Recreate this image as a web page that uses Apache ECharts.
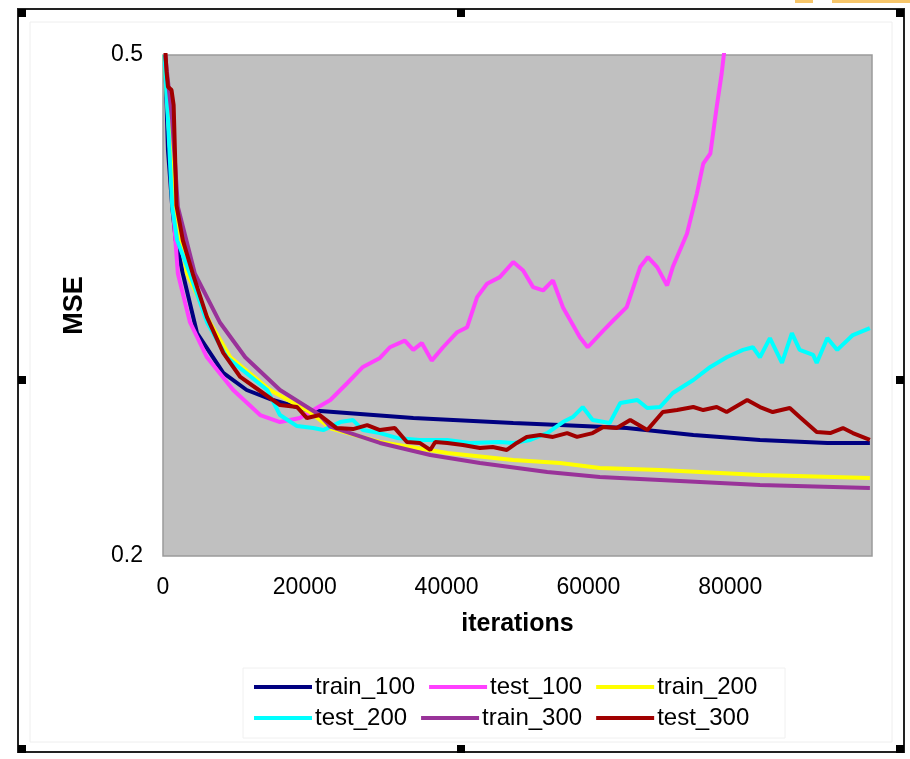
<!DOCTYPE html>
<html>
<head>
<meta charset="utf-8">
<script src="https://cdn.jsdelivr.net/npm/echarts@6/dist/echarts.min.js"></script>
<style>
  html, body { margin:0; padding:0; background:#fff; }
  #chart { width:910px; height:759px; }
</style>
</head>
<body>
<div id="chart"></div>
<script type="text/javascript">
// legend names, in drawing order
var seriesNames = ['train_100', 'test_100', 'train_200', 'test_200', 'train_300', 'test_300'];
var seriesColors = ['#000080', '#ff40ff', '#ffff00', '#00ffff', '#993399', '#a00000'];
var xTicks = [0, 20000, 40000, 60000, 80000];
var yTicks = [0.2, 0.5];

// [iterations, MSE]
var train100 = [
  [300,0.50],[700,0.443],[1300,0.409],[1800,0.389],[2800,0.369],[4800,0.3335],
  [8500,0.3096],[11800,0.2994],[15500,0.2934],[20300,0.2874],[35300,0.2826],
  [49400,0.2796],[56000,0.2784],[65400,0.2766],[74800,0.2725],[84200,0.2695],
  [93700,0.2677],[99700,0.2677]
];
var test100 = [
  [300,0.50],[1000,0.443],[1400,0.409],[2100,0.369],[3800,0.340],[6200,0.319],
  [9900,0.2994],[13700,0.2844],[16500,0.2802],[19300,0.2826],[21200,0.2874],
  [23600,0.2934],[26000,0.3036],[28200,0.3132],[30600,0.3186],[32000,0.325],
  [34100,0.329],[35300,0.3234],[36500,0.3275],[37900,0.317],[39500,0.325],
  [41500,0.334],[42900,0.337],[44300,0.355],[45700,0.363],[47500,0.367],
  [49400,0.376],[50800,0.371],[52200,0.361],[53600,0.359],[55000,0.365],
  [56400,0.349],[58800,0.331],[59900,0.325],[62100,0.335],[63500,0.341],
  [65400,0.349],[67300,0.373],[68400,0.379],[69700,0.373],[71100,0.362],
  [71900,0.373],[73900,0.393],[75300,0.417],[76200,0.435],[77200,0.441],
  [78100,0.469],[78800,0.489],[79100,0.50],[79500,0.515]
];
var train200 = [
  [200,0.50],[1000,0.443],[1700,0.409],[3400,0.369],[6600,0.340],[9500,0.319],
  [15100,0.2994],[20700,0.2862],[23600,0.2765],[30600,0.2683],[40100,0.2617],
  [49400,0.2575],[56000,0.2557],[61600,0.2527],[70100,0.2515],[84200,0.2485],
  [99700,0.2467]
];
var test200 = [
  [200,0.50],[700,0.461],[1300,0.409],[2000,0.389],[3800,0.369],[6200,0.340],
  [9000,0.319],[14700,0.2994],[16500,0.2844],[18900,0.2778],[21200,0.2766],
  [22600,0.2754],[25000,0.2802],[26800,0.2814],[28200,0.2754],[30600,0.2736],
  [33000,0.2707],[36200,0.2695],[40100,0.2695],[43300,0.2677],[47500,0.2683],
  [49400,0.2677],[51800,0.2695],[54200,0.2736],[56400,0.2802],[57800,0.2832],
  [59200,0.2892],[60600,0.2814],[63000,0.2796],[64500,0.2916],[66900,0.2934],
  [68300,0.2886],[70100,0.2892],[71900,0.2976],[74800,0.3054],[77200,0.3132],
  [79500,0.319],[81800,0.3234],[83200,0.325],[84200,0.319],[85600,0.3305],
  [87300,0.3156],[88700,0.3335],[89800,0.3234],[91700,0.3204],[92200,0.3156],
  [93700,0.3305],[95100,0.3234],[97300,0.3323],[99700,0.3365]
];
var train300 = [
  [300,0.50],[1300,0.461],[2100,0.409],[4500,0.369],[8000,0.340],[11600,0.319],
  [16500,0.2994],[22100,0.2844],[23600,0.2775],[30600,0.2677],[37700,0.2605],
  [44700,0.2557],[54200,0.2503],[61600,0.2473],[70100,0.2455],[84200,0.2425],
  [99700,0.2407]
];
var test300 = [
  [300,0.505],[500,0.49],[700,0.481],[1200,0.479],[1500,0.47],[1900,0.41],
  [2800,0.389],[4200,0.369],[6200,0.343],[8500,0.3216],[10900,0.3072],
  [14100,0.2976],[16500,0.2904],[18900,0.2892],[20300,0.2826],[22100,0.2844],
  [24500,0.2766],[26800,0.276],[28800,0.2784],[30600,0.2754],[32700,0.2766],
  [34400,0.2683],[36200,0.2677],[37700,0.2635],[38400,0.2683],[40100,0.2677],
  [42300,0.2665],[44700,0.2647],[46500,0.2653],[48500,0.2635],[49900,0.2677],
  [51300,0.2713],[53200,0.2725],[55000,0.2713],[57000,0.2736],[58400,0.2713],
  [60600,0.2736],[62100,0.2772],[64000,0.2766],[65900,0.2814],[68300,0.2754],
  [70500,0.2862],[72500,0.2874],[74800,0.2892],[76200,0.2874],[78100,0.2892],
  [79500,0.2862],[82400,0.2934],[84200,0.2892],[86000,0.2862],[88400,0.2886],
  [89800,0.2832],[92200,0.2742],[94100,0.2736],[95900,0.2766],[97300,0.2736],
  [99700,0.2695]
];
var allData = [train100, test100, train200, test200, train300, test300];

var font = "'Liberation Sans', Arial, sans-serif";
var dom = document.getElementById("chart");
var myChart = echarts.init(dom);

var series = [];
for (var i = 0; i < seriesNames.length; i++) {
  series.push({
    name: seriesNames[i],
    type: 'line',
    data: allData[i],
    symbol: 'none',
    clip: true,
    animation: false,
    color: seriesColors[i],
    lineStyle: { color: seriesColors[i], width: 4 }
  });
}

var legendBase = {
  icon: 'rect',
  itemWidth: 58,
  itemHeight: 4,
  itemGap: 14,
  padding: 0,
  left: 254,
  textStyle: { fontFamily: font, fontSize: 24, color: '#000', padding: [0, 0, 0, -2] }
};

// frame and selection handles round the chart
var handles = [];
var hx = [18, 457, 896], hy = [9, 376, 745];
for (var a = 0; a < 3; a++) {
  for (var b = 0; b < 3; b++) {
    if (a == 1 && b == 1) continue;
    handles.push({ type: 'rect', shape: { x: hx[a], y: hy[b], width: 8, height: 8 },
      style: { fill: '#000' }, z: 10 });
  }
}

var option = {
  animation: false,
  backgroundColor: '#fff',
  grid: {
    left: 163, right: 38, top: 55, bottom: 203,
    show: true,
    backgroundColor: '#c0c0c0',
    borderColor: '#9a9a9a',
    borderWidth: 1.5
  },
  xAxis: {
    type: 'value',
    min: 0, max: 100000, interval: 20000,
    name: 'iterations',
    nameLocation: 'middle',
    nameGap: 56,
    nameTextStyle: { fontFamily: font, fontSize: 25, fontWeight: 'bold', color: '#000' },
    axisLine: { show: false },
    axisTick: { show: false },
    splitLine: { show: false },
    axisLabel: {
      showMaxLabel: false,
      margin: 20,
      fontFamily: font, fontSize: 23, color: '#000',
      formatter: function (v) { return xTicks.indexOf(v) >= 0 ? String(v) : ''; }
    }
  },
  yAxis: {
    type: 'value',
    min: 0.2, max: 0.5, interval: 0.1,
    name: 'MSE',
    nameLocation: 'middle',
    nameRotate: 90,
    nameGap: 75,
    nameTextStyle: { fontFamily: font, fontSize: 27, fontWeight: 'bold', color: '#000' },
    axisLine: { show: false },
    axisTick: { show: false },
    splitLine: { show: false },
    axisLabel: {
      margin: 20,
      fontFamily: font, fontSize: 23, color: '#000',
      formatter: function (v) {
        for (var k = 0; k < yTicks.length; k++) {
          if (Math.abs(v - yTicks[k]) < 1e-9) return yTicks[k].toFixed(1);
        }
        return '';
      }
    }
  },
  legend: [
    Object.assign({}, legendBase, { top: 675, data: seriesNames.slice(0, 3) }),
    Object.assign({}, legendBase, { top: 706, data: seriesNames.slice(3, 6) })
  ],
  graphic: [
    { type: 'rect', shape: { x: 30, y: 22, width: 862, height: 720 },
      style: { fill: 'none', stroke: '#eeeeee', lineWidth: 1 }, z: 1 },
    { type: 'rect', shape: { x: 243, y: 668, width: 542, height: 70 },
      style: { fill: 'none', stroke: '#f0f0f0', lineWidth: 1 }, z: 1 },
    { type: 'rect', shape: { x: 18, y: 9, width: 886, height: 743 },
      style: { fill: 'none', stroke: '#222', lineWidth: 2 }, z: 9 },
    { type: 'rect', shape: { x: 795, y: 0, width: 18, height: 3 }, style: { fill: '#f7c66a' }, z: 9 },
    { type: 'rect', shape: { x: 832, y: 0, width: 78, height: 3 }, style: { fill: '#f7c66a' }, z: 9 }
  ].concat(handles),
  series: series
};

if (option && typeof option === "object") {
  myChart.setOption(option, true);
}
</script>
</body>
</html>
